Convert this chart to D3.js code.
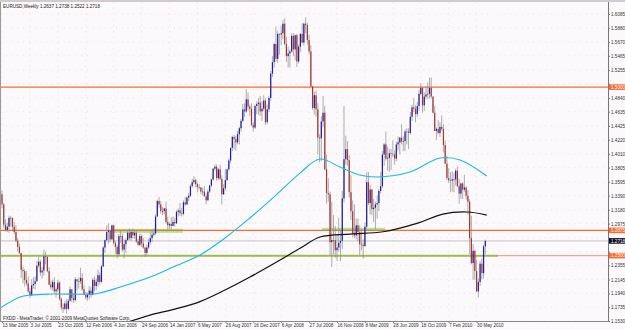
<!DOCTYPE html>
<html>
<head>
<meta charset="utf-8">
<script src="https://cdn.jsdelivr.net/npm/d3@7"></script>
<style>
  html, body { margin: 0; padding: 0; background: #fbf9fb; }
  svg { display: block; }
  text { font-family: "Liberation Sans", Arial, sans-serif; }
</style>
</head>
<body>
<svg id="chart" width="625" height="330"></svg>
<script>
// EURUSD weekly, one candle per week starting 13 Mar 2005 (index 0)
const title = 'EURUSD,Weekly  1.2637 1.2738 1.2522 1.2718';
const copyright = 'FXDD - MetaTrader, \u00a9 2001-2009 MetaQuotes Software Corp.';
const firstOpen = 1.3410;

const closes = [
  1.3260,1.2960,1.2880,1.2930,1.3060,1.3060,1.2930,1.2850,1.2720,1.2630,
  1.2540,1.2290,1.2270,1.2140,1.2090,1.1970,1.1910,1.2060,1.2080,1.2120,
  1.2350,1.2410,1.2250,1.2280,1.2490,1.2480,1.2270,1.2070,1.2030,1.2110,
  1.1970,1.2000,1.2100,1.1860,1.1730,1.1710,1.1790,1.1710,1.1830,1.2000,
  1.1870,1.1840,1.2150,1.2120,1.2120,1.2170,1.2000,1.1920,1.1880,1.1920,
  1.1980,1.1920,1.2140,1.2050,1.2110,1.2210,1.2110,1.2340,1.2620,1.2730,
  1.2850,1.2870,1.2740,1.2950,1.2690,1.2630,1.2520,1.2790,1.2790,1.2590,
  1.2670,1.2730,1.2840,1.2760,1.2850,1.2800,1.2840,1.2710,1.2660,1.2790,
  1.2680,1.2620,1.2540,1.2620,1.2700,1.2760,1.2810,1.2830,1.3080,1.3310,
  1.3260,1.3160,1.3160,1.3200,1.3000,1.2950,1.2970,1.2940,1.3000,1.2980,
  1.3150,1.3170,1.3130,1.3120,1.3290,1.3260,1.3360,1.3390,1.3530,1.3590,
  1.3620,1.3560,1.3520,1.3510,1.3450,1.3450,1.3380,1.3320,1.3450,1.3540,
  1.3630,1.3790,1.3820,1.3650,1.3780,1.3640,1.3410,1.3500,1.3620,1.3780,
  1.3910,1.4100,1.4260,1.4230,1.4180,1.4300,1.4390,1.4500,1.4670,1.4640,
  1.4820,1.4710,1.4680,1.4440,1.4400,1.4720,1.4750,1.4770,1.4640,1.4680,
  1.4800,1.4480,1.4670,1.4840,1.5200,1.5370,1.5640,1.5420,1.5790,1.5780,
  1.5800,1.5940,1.5640,1.5460,1.5500,1.5530,1.5760,1.5560,1.5770,1.5380,
  1.5600,1.5790,1.5660,1.5940,1.5920,1.5700,1.5530,1.5010,1.4690,1.4880,
  1.4670,1.4250,1.4240,1.4490,1.4620,1.3780,1.3430,1.3410,1.2700,1.2730,
  1.2730,1.2580,1.2620,1.2690,1.2720,1.3350,1.3930,1.4080,1.3920,1.3440,
  1.3160,1.2830,1.2800,1.2950,1.2850,1.2670,1.2660,1.2640,1.2930,1.3590,
  1.3280,1.3480,1.3190,1.3210,1.3260,1.3280,1.3460,1.3530,1.4000,1.4150,
  1.3940,1.3950,1.4020,1.4010,1.4000,1.3940,1.4150,1.4180,1.4250,1.4190,
  1.4200,1.4340,1.4340,1.4320,1.4560,1.4700,1.4680,1.4600,1.4720,1.4900,
  1.4990,1.4730,1.4860,1.4890,1.4900,1.4990,1.4860,1.4620,1.4350,1.4380,
  1.4320,1.4410,1.4380,1.4140,1.3865,1.3650,1.3620,1.3610,1.3630,1.3630,
  1.3760,1.3530,1.3420,1.3570,1.3480,1.3510,1.3390,1.3300,1.2760,1.2390,
  1.2570,1.2270,1.1970,1.2110,1.2380,1.2240,1.2637,1.2718
];

const highs = [
  1.3470,1.3280,1.3040,1.2990,1.3090,1.3090,1.3060,1.3000,1.2950,1.2760,
  1.2680,1.2540,1.2340,1.2300,1.2270,1.2190,1.2020,1.2150,1.2180,1.2190,
  1.2420,1.2480,1.2440,1.2330,1.2590,1.2560,1.2490,1.2330,1.2130,1.2140,
  1.2180,1.2030,1.2140,1.2120,1.1880,1.1790,1.1830,1.1850,1.1860,1.2040,
  1.2000,1.1940,1.2180,1.2150,1.2180,1.2320,1.2240,1.2060,1.1960,1.1950,
  1.2050,1.2030,1.2170,1.2190,1.2160,1.2290,1.2250,1.2360,1.2640,1.2740,
  1.2950,1.2980,1.2880,1.2960,1.2960,1.2720,1.2660,1.2820,1.2870,1.2830,
  1.2740,1.2760,1.2880,1.2900,1.2880,1.2900,1.2880,1.2870,1.2750,1.2830,
  1.2810,1.2760,1.2630,1.2660,1.2750,1.2840,1.2880,1.2900,1.3110,1.3330,
  1.3370,1.3310,1.3220,1.3210,1.3300,1.3080,1.2990,1.3070,1.3080,1.3060,
  1.3170,1.3200,1.3280,1.3210,1.3320,1.3370,1.3380,1.3430,1.3560,1.3640,
  1.3680,1.3640,1.3580,1.3560,1.3520,1.3510,1.3530,1.3420,1.3480,1.3550,
  1.3640,1.3800,1.3850,1.3850,1.3800,1.3850,1.3690,1.3560,1.3780,1.3790,
  1.3940,1.4100,1.4280,1.4290,1.4280,1.4350,1.4410,1.4530,1.4750,1.4760,
  1.4970,1.4920,1.4740,1.4760,1.4480,1.4740,1.4790,1.4840,1.4870,1.4790,
  1.4880,1.4830,1.4740,1.4870,1.5240,1.5460,1.5660,1.5900,1.5830,1.5800,
  1.5910,1.5990,1.6020,1.5750,1.5600,1.5560,1.5800,1.5800,1.5780,1.5790,
  1.5630,1.5800,1.5950,1.5960,1.6040,1.5960,1.5780,1.5620,1.5020,1.4930,
  1.4950,1.4760,1.4300,1.4570,1.4870,1.4720,1.4000,1.3650,1.3450,1.3300,
  1.3100,1.2940,1.2810,1.3060,1.2880,1.3460,1.4720,1.4280,1.4200,1.3990,
  1.3700,1.3320,1.3260,1.3050,1.3050,1.2950,1.2890,1.2740,1.2990,1.3740,
  1.3740,1.3550,1.3490,1.3340,1.3300,1.3390,1.3490,1.3740,1.4050,1.4170,
  1.4340,1.4120,1.4080,1.4080,1.4210,1.4060,1.4190,1.4270,1.4260,1.4450,
  1.4270,1.4370,1.4390,1.4390,1.4630,1.4740,1.4840,1.4730,1.4780,1.4960,
  1.5060,1.5000,1.4920,1.5010,1.5070,1.5140,1.5140,1.4860,1.4720,1.4400,
  1.4510,1.4480,1.4580,1.4450,1.4210,1.3980,1.3800,1.3740,1.3750,1.3730,
  1.3790,1.3820,1.3640,1.3580,1.3590,1.3700,1.3530,1.3470,1.3340,1.3090,
  1.2670,1.2590,1.2440,1.2160,1.2420,1.2460,1.2660,1.2738
];

const lows = [
  1.3200,1.2910,1.2860,1.2850,1.2840,1.2930,1.2860,1.2820,1.2700,1.2560,
  1.2520,1.2170,1.2090,1.2040,1.2060,1.1950,1.1870,1.1900,1.2010,1.2000,
  1.2110,1.2320,1.2200,1.2160,1.2200,1.2370,1.2250,1.2060,1.1990,1.1980,
  1.1940,1.1880,1.1960,1.1830,1.1690,1.1650,1.1690,1.1640,1.1690,1.1820,
  1.1810,1.1800,1.1820,1.1980,1.2010,1.2080,1.1980,1.1920,1.1850,1.1830,
  1.1850,1.1880,1.1910,1.1970,1.1990,1.2040,1.2070,1.2100,1.2330,1.2540,
  1.2710,1.2680,1.2700,1.2740,1.2660,1.2530,1.2460,1.2490,1.2690,1.2560,
  1.2460,1.2540,1.2720,1.2730,1.2720,1.2750,1.2750,1.2690,1.2640,1.2640,
  1.2630,1.2600,1.2480,1.2500,1.2600,1.2660,1.2700,1.2780,1.2810,1.3080,
  1.3210,1.3120,1.3100,1.3110,1.2970,1.2870,1.2900,1.2880,1.2940,1.2930,
  1.2970,1.3080,1.3090,1.3080,1.3100,1.3240,1.3250,1.3310,1.3370,1.3510,
  1.3560,1.3510,1.3440,1.3480,1.3410,1.3390,1.3380,1.3260,1.3320,1.3430,
  1.3520,1.3610,1.3760,1.3610,1.3620,1.3620,1.3260,1.3400,1.3470,1.3610,
  1.3760,1.3870,1.4050,1.4080,1.4060,1.4150,1.4150,1.4340,1.4480,1.4560,
  1.4620,1.4660,1.4570,1.4420,1.4340,1.4380,1.4600,1.4590,1.4570,1.4500,
  1.4650,1.4440,1.4450,1.4630,1.4800,1.5150,1.5290,1.5380,1.5360,1.5480,
  1.5620,1.5710,1.5620,1.5370,1.5290,1.5290,1.5510,1.5460,1.5400,1.5300,
  1.5350,1.5520,1.5660,1.5620,1.5800,1.5630,1.5490,1.5000,1.4660,1.4590,
  1.4560,1.4000,1.3880,1.3900,1.4410,1.3770,1.3270,1.3300,1.2500,1.2330,
  1.2520,1.2470,1.2420,1.2560,1.2420,1.2600,1.3290,1.3850,1.3830,1.3360,
  1.3030,1.2770,1.2760,1.2740,1.2710,1.2510,1.2580,1.2460,1.2640,1.2900,
  1.3250,1.3110,1.3100,1.3000,1.2890,1.3050,1.3160,1.3420,1.3500,1.3830,
  1.3910,1.3760,1.3740,1.3770,1.3960,1.3850,1.3900,1.4060,1.4000,1.4150,
  1.4050,1.4050,1.4150,1.4080,1.4300,1.4500,1.4630,1.4480,1.4560,1.4650,
  1.4880,1.4620,1.4650,1.4820,1.4830,1.4830,1.4830,1.4610,1.4350,1.4220,
  1.4300,1.4260,1.4350,1.4030,1.3860,1.3620,1.3580,1.3440,1.3450,1.3440,
  1.3540,1.3520,1.3270,1.3340,1.3340,1.3450,1.3330,1.3110,1.2520,1.2370,
  1.2140,1.2140,1.1960,1.1880,1.2050,1.2150,1.2160,1.2522
];

// date labels, one every 16 weeks
const dateLabels = ['13 Mar 2005', '3 Jul 2005', '23 Oct 2005', '12 Feb 2006', '4 Jun 2006',
  '24 Sep 2006', '14 Jan 2007', '6 May 2007', '26 Aug 2007', '16 Dec 2007', '6 Apr 2008',
  '27 Jul 2008', '16 Nov 2008', '8 Mar 2009', '28 Jun 2009', '18 Oct 2009', '7 Feb 2010', '30 May 2010'];
const dateWeeks = dateLabels.map((d, i) => i * 16);

const priceTicks = [1.6085, 1.5880, 1.5670, 1.5465, 1.5255, 1.5050, 1.4840, 1.4635, 1.4425,
  1.4220, 1.4010, 1.3805, 1.3595, 1.3390, 1.3180, 1.2975, 1.2765, 1.2560, 1.2355, 1.2145,
  1.1940, 1.1735, 1.1530];

// moving averages, read at a few weeks along the curve
const maFastWeeks = [-1.1, 10.3, 16, 27.5, 52, 56, 66, 86.5, 98, 113.5, 127.8, 142, 156.4, 170.8,
  182.2, 193.7, 205, 215, 233.8, 251, 262.5, 277.8];
const maFastValues = [1.1722, 1.1885, 1.1915, 1.1930, 1.1930, 1.1945, 1.2019, 1.2197, 1.2330,
  1.2509, 1.2761, 1.3058, 1.3384, 1.3725, 1.3933, 1.3814, 1.3696, 1.3666, 1.3740, 1.3948,
  1.3918, 1.3681];
const maSlowWeeks = [70.5, 84.8, 99.1, 113.5, 127.8, 142.1, 156.4, 170.8, 182.2, 199.4, 218.3,
  237.8, 252.7, 266.5, 277.8];
const maSlowValues = [1.1500, 1.1618, 1.1707, 1.1818, 1.1989, 1.2182, 1.2390, 1.2608, 1.2776,
  1.2820, 1.2854, 1.2979, 1.3117, 1.3147, 1.3102];

// horizontal levels
const orangeLevels = [1.5000, 1.2875];
const salmonLevel = 1.2500;
const bidLevel = 1.2718;
// green zones: [start week, end week, top price, bottom price]
const zoneStarts = [63.6, 183.4, -2];
const zoneEnds = [103.7, 219.5, 284.2];
const zoneTops = [1.2898, 1.2912, 1.2515];
const zoneBottoms = [1.2838, 1.2868, 1.2488];

const svg = d3.select('#chart');
const plotRight = 608, plotTop = 2, plotBottom = 321;

const x = d3.scaleLinear().domain([0, 272]).range([2, 476.6]);
const y = d3.scaleLinear().domain([1.1530, 1.6085]).range([321, 14]);

svg.append('rect').attr('width', 625).attr('height', 330).attr('fill', '#fbf9fb');

svg.append('defs').append('clipPath').attr('id', 'plot-clip')
  .append('rect').attr('x', 0).attr('y', plotTop).attr('width', plotRight).attr('height', plotBottom - plotTop);

const g = svg.append('g').attr('clip-path', 'url(#plot-clip)');

// dotted grid
g.selectAll('.hgrid').data(priceTicks).enter().append('line')
  .attr('x1', 0).attr('x2', plotRight)
  .attr('y1', (d) => y(d)).attr('y2', (d) => y(d))
  .attr('stroke', '#eed2a8').attr('stroke-width', 0.7).attr('stroke-dasharray', '0.8 5');
g.selectAll('.vgrid').data(dateWeeks).enter().append('line')
  .attr('x1', (d) => x(d)).attr('x2', (d) => x(d))
  .attr('y1', plotTop).attr('y2', plotBottom)
  .attr('stroke', '#eed2a8').attr('stroke-width', 0.7).attr('stroke-dasharray', '0.8 5');

// salmon level under the green band
g.append('line')
  .attr('x1', 0).attr('x2', plotRight)
  .attr('y1', y(salmonLevel)).attr('y2', y(salmonLevel))
  .attr('stroke', '#f6a48e').attr('stroke-width', 1.4);

// green zones
g.selectAll('.zone').data(zoneStarts).enter().append('rect')
  .attr('x', (d) => x(d))
  .attr('width', (d, i) => x(zoneEnds[i]) - x(d))
  .attr('y', (d, i) => y(zoneTops[i]))
  .attr('height', (d, i) => y(zoneBottoms[i]) - y(zoneTops[i]))
  .attr('fill', '#8fe88a').attr('opacity', 0.85);
g.append('rect')
  .attr('x', x(zoneStarts[2])).attr('width', x(zoneEnds[2]) - x(zoneStarts[2]))
  .attr('y', y(salmonLevel) - 0.6).attr('height', 1.6)
  .attr('fill', '#a9b447');

// orange levels and bid line
g.selectAll('.lvl').data(orangeLevels).enter().append('line')
  .attr('x1', 0).attr('x2', plotRight)
  .attr('y1', (d) => y(d)).attr('y2', (d) => y(d))
  .attr('stroke', '#ff6a2c').attr('stroke-width', 1.1);
g.append('line')
  .attr('x1', 0).attr('x2', plotRight)
  .attr('y1', y(bidLevel)).attr('y2', y(bidLevel))
  .attr('stroke', '#b8b8b8').attr('stroke-width', 0.8);

// candles
const bars = closes.map((c, i) => ({ i, o: i === 0 ? firstOpen : closes[i - 1], h: highs[i], l: lows[i], c }));
const candle = g.selectAll('.candle').data(bars).enter().append('g');
candle.append('line')
  .attr('x1', (d) => x(d.i)).attr('x2', (d) => x(d.i))
  .attr('y1', (d) => y(d.h)).attr('y2', (d) => y(d.l))
  .attr('stroke', '#8d8d8d').attr('stroke-width', 0.7);
candle.append('rect')
  .attr('x', (d) => x(d.i) - 0.6).attr('width', 1.2)
  .attr('y', (d) => y(Math.max(d.o, d.c)))
  .attr('height', (d) => Math.max(0.6, Math.abs(y(d.o) - y(d.c))))
  .attr('fill', (d) => (d.c >= d.o ? '#1c1ca8' : '#a8352f'));

// moving averages
const line = d3.line().x((d) => x(d[0])).y((d) => y(d[1])).curve(d3.curveCatmullRom.alpha(0.5));
g.append('path').datum(maFastWeeks.map((w, i) => [w, maFastValues[i]]))
  .attr('d', line).attr('fill', 'none').attr('stroke', '#19b8f2').attr('stroke-width', 1.1);
g.append('path').datum(maSlowWeeks.map((w, i) => [w, maSlowValues[i]]))
  .attr('d', line).attr('fill', 'none').attr('stroke', '#111').attr('stroke-width', 1.2);

// frame
svg.append('line').attr('x1', 0).attr('x2', 625).attr('y1', 1).attr('y2', 1)
  .attr('stroke', '#cfcbcf').attr('stroke-width', 2);
svg.append('line').attr('x1', 0.5).attr('x2', 0.5).attr('y1', plotTop).attr('y2', plotBottom)
  .attr('stroke', '#9a9a9a').attr('stroke-width', 1);

// level labels on the price scale
const tags = [
  { v: orangeLevels[0], fill: '#ff6a2c' },
  { v: orangeLevels[1], fill: '#ff6a2c' },
  { v: salmonLevel, fill: '#ff6a2c' },
  { v: bidLevel, fill: '#0c0c22' }
];

// price axis; a tick label sitting under a level tag is hidden, as on the terminal
const yAxis = svg.append('g')
  .attr('transform', `translate(${plotRight},0)`)
  .call(d3.axisRight(y).tickValues(priceTicks).tickFormat(d3.format('.4f')).tickSize(2).tickSizeOuter(0));
yAxis.select('.domain').attr('stroke', '#777').attr('d', `M0.5,${plotTop}V${plotBottom}`);
yAxis.selectAll('.tick line').attr('stroke', '#777');
yAxis.selectAll('text').attr('x', 3).style('font-size', '4.6px').attr('fill', '#333')
  .filter((d) => tags.some((t) => Math.abs(y(t.v) - y(d)) < 5.5))
  .remove();

// date axis
const xAxis = svg.append('g')
  .attr('transform', `translate(0,${plotBottom})`)
  .call(d3.axisBottom(x).tickValues(dateWeeks).tickFormat((d, i) => dateLabels[i]).tickSize(2).tickSizeOuter(0));
xAxis.select('.domain').attr('stroke', '#888').attr('d', `M0,0.5H${plotRight}`);
xAxis.selectAll('.tick line').attr('stroke', '#888');
xAxis.selectAll('text').attr('text-anchor', 'start').attr('x', 0).attr('y', 3)
  .style('font-size', '4.6px').attr('fill', '#333');

const tag = svg.selectAll('.tag').data(tags).enter().append('g');
tag.append('rect')
  .attr('x', plotRight + 1).attr('width', 16.5)
  .attr('y', (d) => y(d.v) - 2.8).attr('height', 5.6)
  .attr('fill', (d) => d.fill);
tag.append('text')
  .attr('x', plotRight + 3).attr('y', (d) => y(d.v)).attr('dy', '0.35em')
  .style('font-size', '4.6px').attr('fill', '#fff')
  .text((d) => d3.format('.4f')(d.v));

svg.append('text').attr('x', 3).attr('y', 7.5)
  .style('font-size', '4.6px').attr('fill', '#222').text(title);
svg.append('text').attr('x', 3).attr('y', 319.5)
  .style('font-size', '4.6px').attr('fill', '#222').text(copyright);
</script>
</body>
</html>
